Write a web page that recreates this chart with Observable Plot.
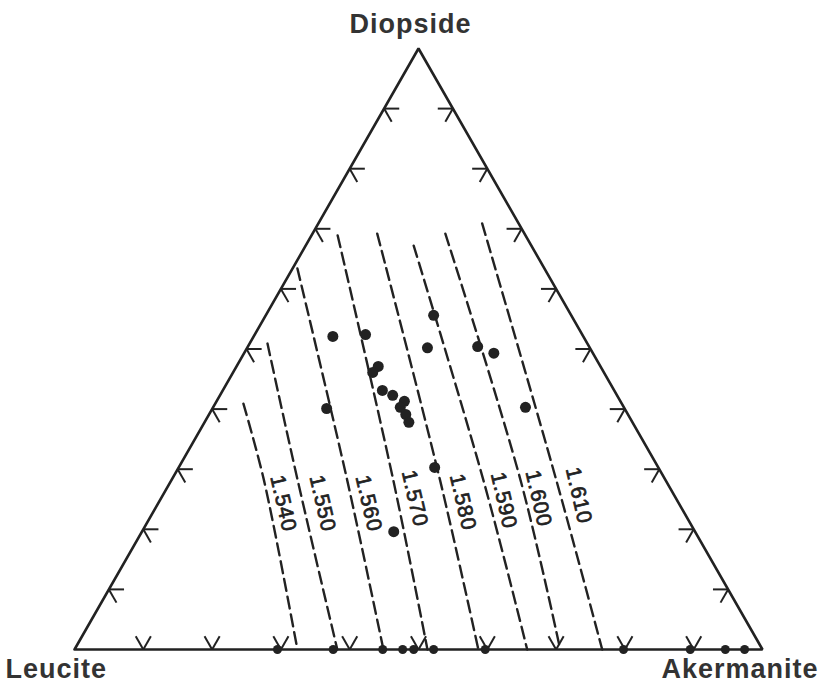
<!DOCTYPE html>
<html>
<head>
<meta charset="utf-8">
<script src="https://cdn.jsdelivr.net/npm/d3@7"></script>
<script src="https://cdn.jsdelivr.net/npm/@observablehq/plot@0.6"></script>
<style>
  body { margin: 0; background: #fff; }
</style>
</head>
<body>
<div id="chart"></div>
<script>
// ---- Data (compositions in wt %: Diopside, Akermanite; Leucite = remainder) ----
const vertexNames = ["Leucite", "Akermanite", "Diopside"];

// Refractive-index isolines, each a list of [Diopside %, Akermanite %] points (top -> bottom)
const isoIndex = ["1.540", "1.550", "1.560", "1.570", "1.580", "1.590", "1.600", "1.610"];
const isoPoints = [
  [[40.9, 4.1], [28.1, 13.5], [0, 32.4]],
  [[50.9, 2.6], [28.1, 18.4], [0, 38.2]],
  [[63.4, 0.7], [28.1, 25.6], [0, 44.9]],
  [[68.9, 3.8], [28.1, 32.3], [0, 51.3]],
  [[69.2, 9.4], [28.1, 39.1], [0, 58.7]],
  [[67.2, 15.7], [28.1, 45.4], [0, 65.8]],
  [[69.2, 19.3], [28.1, 50.8], [0, 70.6]],
  [[70.9, 23.8], [28.1, 56.0], [0, 76.7]]
];
// Label anchor of each isoline: [Diopside %, Akermanite %]
const isoLabelPos = [
  [24.3, 18.2], [24.3, 23.9], [24.3, 30.6], [25.1, 36.9],
  [24.5, 44.2], [24.8, 50.0], [25.1, 54.9], [25.6, 60.5]
];

// Glass samples
const sampleDiopside = [
  52.1, 52.4, 55.6, 50.2, 50.4, 49.3, 47.1, 46.1, 43.1, 42.3, 41.3, 40.3, 39.1, 37.8,
  40.1, 40.3, 30.3, 19.6,
  0, 0, 0, 0, 0, 0, 0, 0, 0, 0, 0
];
const sampleAkermanite = [
  11.5, 16.1, 24.4, 26.2, 33.4, 36.3, 20.6, 20.3, 23.2, 25.1, 27.3, 27.2, 28.6, 29.7,
  16.6, 45.4, 37.2, 36.6,
  29.5, 37.6, 44.8, 47.7, 49.3, 52.2, 59.7, 79.8, 89.5, 94.6, 97.4
];

// Tick marks every 10 %
const tickSteps = [10, 20, 30, 40, 50, 60, 70, 80, 90];

// ---- Ternary -> cartesian ----
const H = Math.sqrt(3) / 2;
const toXY = (d, a) => ({ x: a / 100 + d / 200, y: (d / 100) * H });

const triangle = [toXY(0, 0), toXY(0, 100), toXY(100, 0), toXY(0, 0)];

const isoData = isoPoints.flatMap((pts, i) =>
  pts.map(([d, a]) => ({ ...toXY(d, a), idx: isoIndex[i] }))
);
const isoLabels = isoLabelPos.map(([d, a], i) => ({ ...toXY(d, a), label: isoIndex[i] }));

const samples = sampleDiopside.map((d, i) => ({ ...toXY(d, sampleAkermanite[i]), edge: d === 0 }));
const interiorSamples = samples.filter(s => !s.edge);
const edgeSamples = samples.filter(s => s.edge);

const L = 0.022;
const arms = [];
for (const k of tickSteps) {
  // bottom edge (Leucite–Akermanite)
  const b = toXY(0, k);
  arms.push({ x1: b.x, y1: b.y, x2: b.x - 0.5 * L, y2: b.y + H * L });
  arms.push({ x1: b.x, y1: b.y, x2: b.x + 0.5 * L, y2: b.y + H * L });
  // left edge (Leucite–Diopside)
  const l = toXY(k, 0);
  arms.push({ x1: l.x, y1: l.y, x2: l.x + L, y2: l.y });
  arms.push({ x1: l.x, y1: l.y, x2: l.x + 0.5 * L, y2: l.y - H * L });
  // right edge (Akermanite–Diopside)
  const r = toXY(k, 100 - k);
  arms.push({ x1: r.x, y1: r.y, x2: r.x - L, y2: r.y });
  arms.push({ x1: r.x, y1: r.y, x2: r.x - 0.5 * L, y2: r.y - H * L });
}

const vertices = [
  { ...toXY(0, 0), name: vertexNames[0], anchor: "start", dx: -69, dy: 20 },
  { ...toXY(0, 100), name: vertexNames[1], anchor: "end", dx: 56, dy: 20 },
  { ...toXY(100, 0), name: vertexNames[2], anchor: "middle", dx: -8, dy: -24 }
];

const ink = "#222";
const plot = Plot.plot({
  width: 823,
  height: 683,
  marginLeft: 74,
  marginRight: 61,
  marginTop: 48,
  marginBottom: 34,
  x: { domain: [0, 1], axis: null },
  y: { domain: [0, H], axis: null },
  style: { background: "#fff" },
  marks: [
    Plot.line(isoData, {
      x: "x", y: "y", z: "idx", curve: "catmull-rom",
      stroke: ink, strokeWidth: 2.4, strokeDasharray: "12,6"
    }),
    Plot.link(arms, {
      x1: "x1", y1: "y1", x2: "x2", y2: "y2",
      stroke: ink, strokeWidth: 2
    }),
    Plot.line(triangle, {
      x: "x", y: "y", stroke: ink, strokeWidth: 2.6, strokeLinejoin: "miter"
    }),
    Plot.dot(interiorSamples, { x: "x", y: "y", r: 5.5, fill: ink, stroke: null }),
    Plot.dot(edgeSamples, { x: "x", y: "y", r: 4.5, fill: ink, stroke: null }),
    Plot.text(isoLabels, {
      x: "x", y: "y", text: "label", rotate: 77,
      fontSize: 21, fill: ink, stroke: ink, strokeWidth: 0.7, textAnchor: "middle",
      fontFamily: "Liberation Sans, Arial, sans-serif"
    }),
    ...vertices.map(v =>
      Plot.text([v], {
        x: "x", y: "y", text: "name", textAnchor: v.anchor,
        dx: v.dx, dy: v.dy, fontSize: 27, fontWeight: "bold",
        fill: "#333", fontFamily: "Liberation Sans, Arial, sans-serif"
      })
    )
  ]
});
// letter spacing for the isoline labels and vertex names
plot.querySelectorAll("text").forEach(t => {
  t.style.letterSpacing = t.getAttribute("font-size") === "21" ? "4px" : "1px";
});
document.getElementById("chart").appendChild(plot);
</script>
</body>
</html>
